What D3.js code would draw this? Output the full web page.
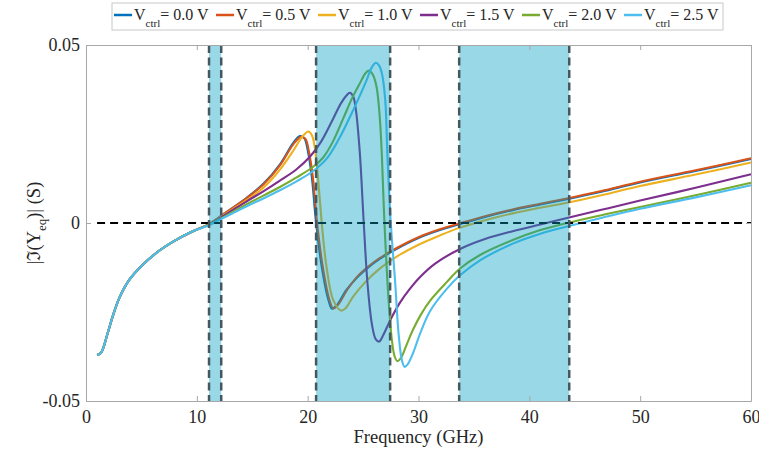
<!DOCTYPE html>
<html><head><meta charset="utf-8">
<script src="https://cdn.jsdelivr.net/npm/d3@7"></script>
<style>
body{margin:0;background:#fff;}
svg{display:block;font-family:"Liberation Serif","DejaVu Serif",serif;}
</style>
</head><body>
<svg id="c" width="759" height="454"></svg>
<script>
// ---------- data ----------
const xTicks = [0, 10, 20, 30, 40, 50, 60];
const yTicks = [-0.05, 0, 0.05];
const yTickLabels = ["-0.05", "0", "0.05"];
const bands = [[11.1, 12.2], [20.76, 27.44], [33.67, 43.6]];
const seriesNames = ["0.0", "0.5", "1.0", "1.5", "2.0", "2.5"];
const seriesColors = ["#0072BD", "#D95319", "#EDB120", "#7E2F8E", "#77AC30", "#4DBEEE"];

// shared low-frequency part (all curves overlap)
const commonLow = [[1.0,-0.0371],[1.35,-0.0365],[1.96,-0.0309],[2.4,-0.0263],[3.0,-0.0211],[3.9,-0.0160],[5.1,-0.0118],[6.6,-0.0078],[8.1,-0.0048],[9.6,-0.0024]];

const v00 = [[11.1,-0.0003],[12.5,0.0027],[14.5,0.0071],[16,0.0110],[17.5,0.0165],[18.7,0.0225],[19.3,0.0244],[19.7,0.0238],[20.0,0.0205],[20.37,0.0130],[20.76,0.0],[21.27,-0.0123],[21.87,-0.0216],[22.2,-0.0241],[22.6,-0.0232],[23.5,-0.0188],[24.5,-0.0152],[25.5,-0.0124],[26.5,-0.0101],[28,-0.0073],[30,-0.0042],[32,-0.0019],[33.75,-0.0003],[36,0.0017],[38.5,0.0036],[41,0.0052],[43.4,0.0067],[46.5,0.0088],[50,0.0114],[55,0.0146],[60,0.0180]];
const v05 = [[11.1,-0.0003],[12.5,0.0027],[14.5,0.0070],[16,0.0108],[17.5,0.0162],[18.7,0.0221],[19.4,0.0242],[19.8,0.0236],[20.1,0.0203],[20.47,0.0128],[20.85,0.0],[21.36,-0.0123],[21.95,-0.0215],[22.3,-0.0240],[22.7,-0.0231],[23.6,-0.0186],[24.5,-0.0150],[25.5,-0.0122],[26.5,-0.0099],[28,-0.0071],[30,-0.0040],[32,-0.0017],[33.75,-0.0001],[36,0.0019],[38.5,0.0038],[41,0.0054],[43.4,0.0069],[46.5,0.0090],[50,0.0116],[55,0.0148],[60,0.0182]];
const v10 = [[11.1,-0.0003],[12.5,0.0024],[14.5,0.0064],[16,0.0099],[17.5,0.0150],[18.7,0.0203],[19.5,0.0242],[20.07,0.0257],[20.4,0.0245],[20.67,0.0205],[21.1,0.0065],[21.27,0.0],[21.7,-0.0123],[22.3,-0.0216],[23.0,-0.0246],[23.4,-0.0240],[24.1,-0.0207],[25.2,-0.0166],[26.5,-0.0128],[28,-0.0095],[30,-0.0061],[32,-0.0034],[33.75,-0.0013],[36,0.0008],[38.5,0.0027],[41,0.0043],[43.4,0.0057],[46.5,0.0078],[50,0.0104],[55,0.0136],[60,0.0170]];
const v15 = [[11.1,-0.0004],[12.5,0.0022],[14.5,0.0061],[16,0.0089],[17.5,0.0119],[19,0.0151],[20.2,0.0186],[21.2,0.0228],[22.3,0.0293],[23.0,0.0336],[23.5,0.0358],[23.8,0.0366],[24.1,0.0356],[24.35,0.0318],[24.7,0.0200],[25.06,0.0],[25.4,-0.0170],[25.8,-0.0285],[26.15,-0.0327],[26.45,-0.0333],[26.8,-0.0316],[27.5,-0.0270],[28.3,-0.0225],[29.2,-0.0186],[30.1,-0.0153],[31.5,-0.0114],[33.75,-0.0073],[36,-0.0045],[38.5,-0.0023],[41,-0.0004],[43.4,0.0014],[46.5,0.0037],[50,0.0063],[55,0.0099],[60,0.0137]];
const v20 = [[11.1,-0.0005],[12.5,0.0018],[14.5,0.0053],[16,0.0077],[17.5,0.0101],[19,0.0128],[20.5,0.0158],[21.4,0.0184],[22.3,0.0230],[23.2,0.0293],[24.0,0.0350],[24.7,0.0392],[25.2,0.0420],[25.5,0.0428],[25.85,0.0418],[26.2,0.0385],[26.5,0.0299],[26.7,0.0186],[26.93,0.0],[27.3,-0.0216],[27.6,-0.0329],[27.85,-0.0375],[28.1,-0.0388],[28.45,-0.0377],[28.95,-0.0340],[29.5,-0.0300],[30.2,-0.0258],[31.05,-0.0218],[32.55,-0.0166],[33.75,-0.0128],[35.55,-0.0090],[38.5,-0.0048],[41,-0.0020],[43.4,0.0000],[46.5,0.0022],[50,0.0045],[55,0.0078],[60,0.0113]];
const v25 = [[11.1,-0.0006],[12.5,0.0016],[14.5,0.0047],[16,0.0069],[17.5,0.0092],[19,0.0117],[20.5,0.0146],[21.7,0.0180],[22.8,0.0235],[23.8,0.0297],[24.6,0.0350],[25.3,0.0400],[25.8,0.0438],[26.15,0.0450],[26.45,0.0442],[26.7,0.0420],[27.0,0.0345],[27.2,0.0186],[27.5,0.0],[27.9,-0.0169],[28.2,-0.0310],[28.5,-0.0385],[28.75,-0.0404],[29.0,-0.0398],[29.5,-0.0366],[30.15,-0.0310],[31.05,-0.0247],[32.55,-0.0185],[33.75,-0.0147],[35.55,-0.0105],[38.5,-0.0058],[41,-0.0030],[43.4,-0.0010],[46.5,0.0014],[50,0.0040],[55,0.0072],[60,0.0106]];

const seriesValues = [v00, v05, v10, v15, v20, v25];

// ---------- layout ----------
const svg = d3.select("#c");
const L = 86, R = 751, T = 45, B = 401;
const x = d3.scaleLinear().domain([0, 60]).range([L, R]);
const y = d3.scaleLinear().domain([-0.05, 0.05]).range([B, T]);
const axisColor = "#a8a8a8", textColor = "#262626";

// curves
const line = d3.line().x(d => x(d[0])).y(d => y(d[1])).curve(d3.curveCatmullRom.alpha(0.5));
svg.append("g").selectAll("path").data(seriesValues).join("path")
  .attr("d", d => line(commonLow.concat(d)))
  .attr("fill", "none")
  .attr("stroke", (d, i) => seriesColors[i])
  .attr("stroke-width", 2.1)
  .attr("stroke-linejoin", "round");

// zero dashed line
svg.append("line")
  .attr("x1", x(1)).attr("x2", x(60)).attr("y1", y(0)).attr("y2", y(0))
  .attr("stroke", "#000").attr("stroke-width", 2).attr("stroke-dasharray", "8,5");

// shaded bands (over lines)
svg.append("g").selectAll("rect").data(bands).join("rect")
  .attr("x", d => x(d[0])).attr("width", d => x(d[1]) - x(d[0]))
  .attr("y", T).attr("height", B - T)
  .attr("fill", "rgb(0,157,192)").attr("fill-opacity", 0.4);

// band edge dashed lines
const edges = bands.flat();
svg.append("g").selectAll("line").data(edges).join("line")
  .attr("x1", d => x(d)).attr("x2", d => x(d)).attr("y1", T).attr("y2", B)
  .attr("stroke", "#44585e").attr("stroke-width", 2.5).attr("stroke-dasharray", "8,4.5");

// axes
function styleAxis(g) {
  g.selectAll(".domain").attr("stroke", axisColor);
  g.selectAll(".tick line").attr("stroke", axisColor);
  g.selectAll("text").attr("fill", textColor).style("font-family", '"Liberation Serif", serif').style("font-size", "18px");
}
svg.append("g").attr("transform", `translate(0,${B})`)
  .call(d3.axisBottom(x).tickValues(xTicks).tickFormat(d3.format("d")).tickSize(-5).tickSizeOuter(0).tickPadding(9))
  .call(styleAxis);
svg.append("g").attr("transform", `translate(0,${T})`)
  .call(d3.axisTop(x).tickValues(xTicks).tickFormat("").tickSize(-5).tickSizeOuter(0))
  .call(styleAxis);
svg.append("g").attr("transform", `translate(${L},0)`)
  .call(d3.axisLeft(y).tickValues(yTicks).tickFormat((d, i) => yTickLabels[i]).tickSize(-5).tickSizeOuter(0).tickPadding(6))
  .call(styleAxis);
svg.append("g").attr("transform", `translate(${R},0)`)
  .call(d3.axisRight(y).tickValues(yTicks).tickFormat("").tickSize(-5).tickSizeOuter(0))
  .call(styleAxis);

// axis labels
svg.append("text").attr("x", (L + R) / 2).attr("y", 443)
  .attr("text-anchor", "middle").attr("fill", textColor).style("font-size", "18.5px")
  .text("Frequency (GHz)");
const yl = svg.append("text").attr("transform", `translate(40,${(T + B) / 2}) rotate(-90)`)
  .attr("text-anchor", "middle").attr("fill", textColor).style("font-size", "18.5px");
yl.append("tspan").text("|\u2111(Y");
yl.append("tspan").attr("dy", 6).style("font-size", "13px").text("eq");
yl.append("tspan").attr("dy", -6).text(")| (S)");

// legend
const lg = svg.append("g");
lg.append("rect").attr("x", 112).attr("y", 3).attr("width", 611).attr("height", 27)
  .attr("fill", "#fff").attr("stroke", "#c8c8c8").attr("stroke-width", 1);
const items = lg.selectAll("g.item").data(seriesNames).join("g")
  .attr("class", "item")
  .attr("transform", (d, i) => `translate(${114 + i * 102},0)`);
items.append("line").attr("x1", 0).attr("x2", 18).attr("y1", 15).attr("y2", 15)
  .attr("stroke", (d, i) => seriesColors[i]).attr("stroke-width", 2.5);
const lt = items.append("text").attr("x", 20).attr("y", 20).attr("fill", textColor).style("font-size", "16px");
lt.append("tspan").text("V");
lt.append("tspan").attr("dy", 7).style("font-size", "11px").text("ctrl");
lt.append("tspan").attr("dy", -7).text(d => "= " + d + " V");
</script>
</body></html>
